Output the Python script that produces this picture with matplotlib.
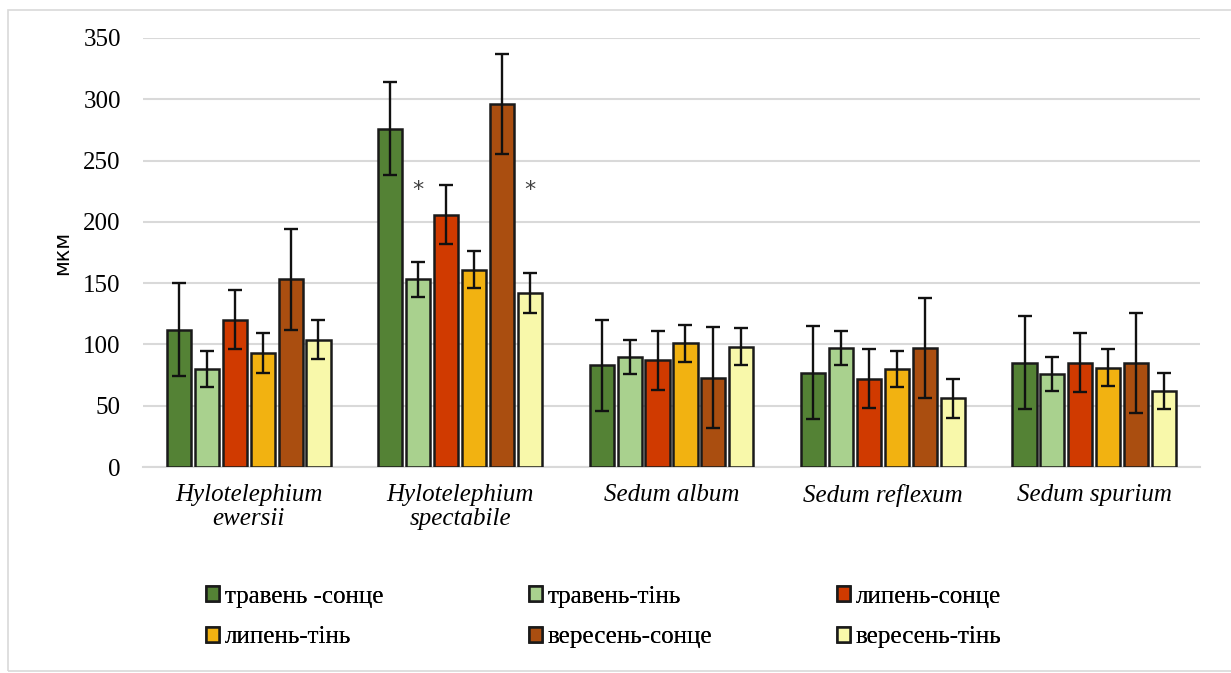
import numpy as np
import matplotlib
matplotlib.use("Agg")
import matplotlib.pyplot as plt
from matplotlib.patches import Rectangle

# --- Data ---
species = ["Hylotelephium\newersii", "Hylotelephium\nspectabile", "Sedum album",
           "Sedum reflexum", "Sedum spurium"]
series = ["травень -сонце", "травень-тінь", "липень-сонце",
          "липень-тінь", "вересень-сонце", "вересень-тінь"]

may_sun = [112, 276, 83, 77, 85]
may_shade = [80, 153, 90, 97, 76]
jul_sun = [120, 206, 87, 72, 85]
jul_shade = [93, 161, 101, 80, 81]
sep_sun = [153, 296, 73, 97, 85]
sep_shade = [104, 142, 98, 56, 62]

may_sun_err = [38, 38, 37, 38, 38]
may_shade_err = [15, 14, 14, 14, 14]
jul_sun_err = [24, 24, 24, 24, 24]
jul_shade_err = [16, 15, 15, 15, 15]
sep_sun_err = [41, 41, 41, 41, 41]
sep_shade_err = [16, 16, 15, 16, 15]

# significance marks: (species index, series index)
stars = [(1, 1), (1, 5)]
star_y = 226

values = [may_sun, may_shade, jul_sun, jul_shade, sep_sun, sep_shade]
errors = [may_sun_err, may_shade_err, jul_sun_err, jul_shade_err, sep_sun_err, sep_shade_err]
colors = ["#548235", "#A9D18E", "#D03A00", "#F2B211", "#AA4E10", "#F8F8AA"]

# --- Figure ---
fig = plt.figure(figsize=(12.31, 6.73), dpi=100)
ax = fig.add_axes([143 / 1231, 1 - 467 / 673, 1057 / 1231, 429 / 673])

x = np.arange(len(species))
pitch = 0.132
width = 0.114
offsets = (np.arange(len(series)) - 2.5) * pitch

handles = []
for i, (vals, errs, col, name) in enumerate(zip(values, errors, colors, series)):
    b = ax.bar(x + offsets[i], vals, width, color=col, edgecolor="#1a1a1a",
               linewidth=1.8, label=name, zorder=3,
               yerr=errs, error_kw=dict(ecolor="#111111", elinewidth=1.7,
                                        capsize=5, capthick=1.7, zorder=4))
    handles.append(b)

for gi, si in stars:
    ax.text(x[gi] + offsets[si], star_y, "*", ha="center", va="center",
            fontsize=16, color="#404040", family="DejaVu Sans")

ax.set_xlim(-0.5, len(species) - 0.5)
ax.set_ylim(0, 350)
ax.set_yticks(np.arange(0, 351, 50))
ax.yaxis.grid(True, color="#D9D9D9", linewidth=1.5, zorder=0)
ax.set_axisbelow(True)
for s in ["top", "right", "left"]:
    ax.spines[s].set_visible(False)
ax.spines["bottom"].set_color("#D9D9D9")
ax.spines["bottom"].set_linewidth(1.5)

ax.set_xticks(x)
ax.set_xticklabels(species, fontsize=18, family="Liberation Serif", style="italic",
                   linespacing=1.15)
ax.tick_params(axis="x", length=0, pad=12)
ax.tick_params(axis="y", length=0, pad=16, labelsize=18)
for lbl in ax.get_yticklabels():
    lbl.set_family("Liberation Serif")

ax.set_ylabel("мкм", fontsize=15, family="DejaVu Sans", labelpad=8)

# legend: three columns, two rows (row-wise order as in the reference)
col_x = [206, 529, 837]
for c in range(3):
    pair = [c, c + 3]
    leg = fig.legend(handles=[handles[k] for k in pair], labels=[series[k] for k in pair],
                     loc="center left", bbox_to_anchor=(col_x[c] / 1231, 1 - 617 / 673),
                     frameon=False, prop={"family": "Liberation Serif", "size": 18},
                     handlelength=0.5, handleheight=0.55, handletextpad=0.25,
                     labelspacing=0.75, borderpad=0, borderaxespad=0)
    fig.add_artist(leg)

fig.patches.append(Rectangle((8 / 1231, 1 - 671 / 673), 1240 / 1231, 661 / 673,
                             transform=fig.transFigure, fill=False,
                             edgecolor="#D9D9D9", linewidth=1.2))

fig.savefig("out.png", dpi=100)
